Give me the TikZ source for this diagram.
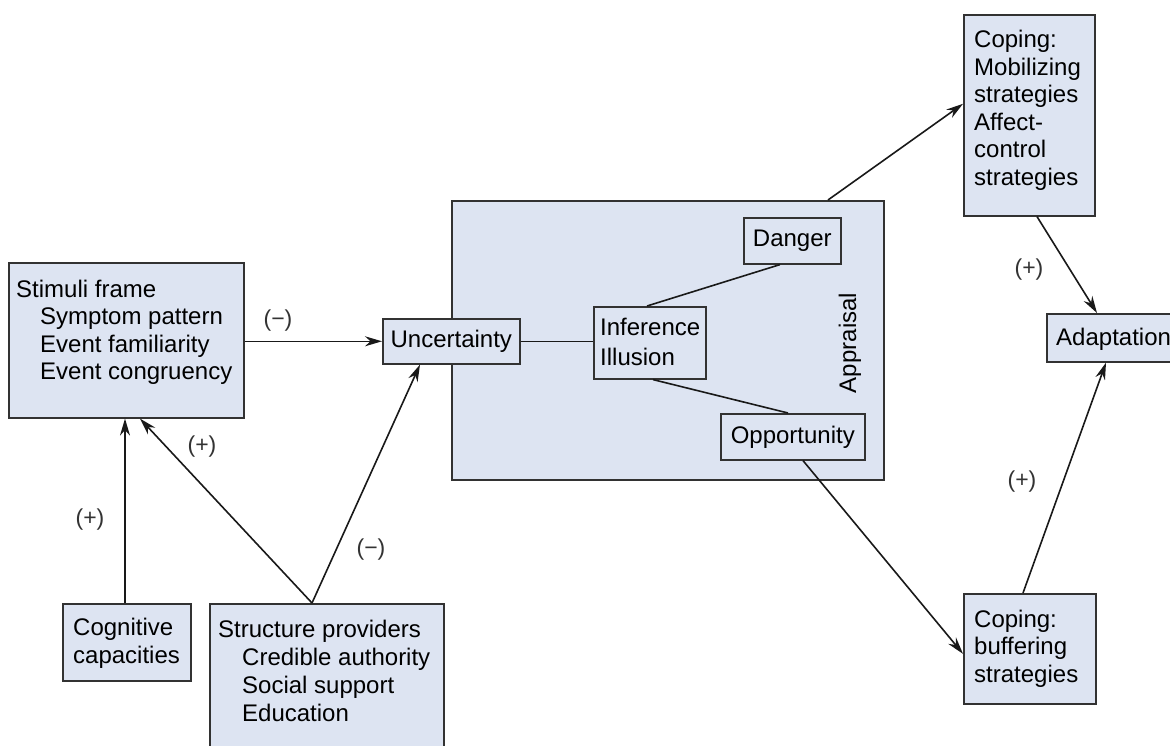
\documentclass[tikz,border=0pt]{standalone}
\usepackage{fontspec}
\setmainfont{Liberation Sans}
\usetikzlibrary{arrows.meta}
\definecolor{boxfill}{RGB}{221,228,242}
\definecolor{edge}{RGB}{50,50,50}
\begin{document}
\begin{tikzpicture}[x=1pt,y=-1pt,
  box/.style={draw=edge,line width=1.6pt,fill=boxfill,inner sep=0pt,anchor=north west},
  txt/.style={inner sep=0pt,anchor=base west,font=\fontsize{24}{27.5}\selectfont},
  ctxt/.style={inner sep=0pt,font=\fontsize{24}{27.5}\selectfont},
  lbl/.style={inner sep=0pt,text=black!80,font=\fontsize{23}{26}\selectfont},
  arr/.style={draw=black!90,line width=1.6pt,-{Stealth[length=17pt,width=10pt]}},
  con/.style={draw=black!90,line width=1.6pt}]
\useasboundingbox (0,0) rectangle (1170,746);
\fill[white] (0,0) rectangle (1170,746);

% boxes
\node[box,minimum width=235pt,minimum height=155pt] (stim) at (8,262) {};
\node[box,minimum width=432pt,minimum height=279pt] (appr) at (451,200) {};
\node[box,minimum width=137pt,minimum height=45pt] (unc) at (382,318) {};
\node[box,minimum width=97pt,minimum height=46pt] (dang) at (743,217) {};
\node[box,minimum width=112pt,minimum height=72pt] (infer) at (593,306) {};
\node[box,minimum width=144pt,minimum height=46pt] (opp) at (720,413) {};
\node[box,minimum width=131pt,minimum height=201pt] (cop1) at (963,14) {};
\node[box,minimum width=130pt,minimum height=48pt] (adapt) at (1046,313) {};
\node[box,minimum width=132pt,minimum height=110pt] (cop2) at (963,593) {};
\node[box,minimum width=128pt,minimum height=77pt] (cog) at (62,603) {};
\node[box,minimum width=234pt,minimum height=160pt] (struct) at (209,603) {};

% texts
\node[txt] (stimtxt) at (16,297) {\parbox[t]{225pt}{Stimuli frame\\\hspace*{24pt}Symptom pattern\\\hspace*{24pt}Event familiarity\\\hspace*{24pt}Event congruency}};
\node[ctxt] (unctxt) at (unc.center) {Uncertainty};
\node[ctxt] (dangtxt) at (dang.center) {Danger};
\node[ctxt] (opptxt) at (opp.center) {Opportunity};
\node[txt,font=\fontsize{24}{30}\selectfont] (infertxt) at (600,335) {\parbox[t]{100pt}{Inference\\Illusion}};
\node[ctxt,rotate=90] (apprtxt) at (850,343) {Appraisal};
\node[txt] (cop1txt) at (974,48) {\parbox[t]{120pt}{Coping:\\Mobilizing\\strategies\\Affect-\\control\\strategies}};
\node[txt] (adapttxt) at (1056,345) {Adaptation};
\node[txt] (cop2txt) at (974,627) {\parbox[t]{120pt}{Coping:\\buffering\\strategies}};
\node[txt,font=\fontsize{24}{28}\selectfont] (cogtxt) at (73,635) {\parbox[t]{120pt}{Cognitive\\capacities}};
\node[txt,font=\fontsize{24}{28}\selectfont] (structtxt) at (218,637) {\parbox[t]{225pt}{Structure providers\\\hspace*{24pt}Credible authority\\\hspace*{24pt}Social support\\\hspace*{24pt}Education}};

% connectors
\draw[arr] (stim.east |- unc.west) -- (unc.west);
\draw[con] (unc.east) -- (unc.east -| infer.west);
\draw[con] ([xshift=54pt]infer.north west) -- ([xshift=37pt]dang.south west);
\draw[con] ([xshift=60pt]infer.south west) -- ([xshift=68pt]opp.north west);
\draw[arr] ([xshift=377pt]appr.north west) -- ([yshift=11.5pt]cop1.west);
\draw[arr] ([xshift=74pt]cop1.south west) -- ([xshift=51pt]adapt.north west);
\draw[arr] ([xshift=83pt]opp.south west) -- ([yshift=-5pt]cop2.west);
\draw[arr] ([xshift=60pt]cop2.north west) -- ([xshift=60pt]adapt.south west);
\draw[arr] ([xshift=63pt]cog.north west) -- ([xshift=117pt]stim.south west);
\coordinate (stop) at ([xshift=103pt]struct.north west);
\draw[arr] (stop) -- ([xshift=132pt]stim.south west);
\draw[arr] (stop) -- ([xshift=38pt]unc.south west);

% labels
\node[lbl] (l1) at (278,321) {(−)};
\node[lbl] (l2) at (90,520) {(+)};
\node[lbl] (l3) at (202,447) {(+)};
\node[lbl] (l4) at (371,550) {(−)};
\node[lbl] (l5) at (1029,270) {(+)};
\node[lbl] (l6) at (1022,482) {(+)};
\end{tikzpicture}
\end{document}
